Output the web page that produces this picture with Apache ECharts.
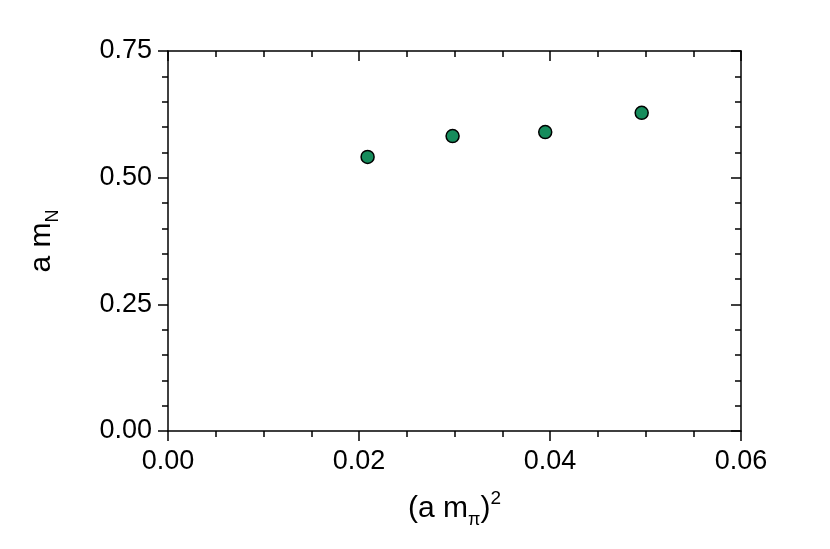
<!DOCTYPE html>
<html>
<head>
<meta charset="utf-8">
<script src="https://cdn.jsdelivr.net/npm/echarts@6/dist/echarts.min.js"></script>
<style>
html, body { margin: 0; padding: 0; background: #fff; }
#chart { width: 830px; height: 549px; }
</style>
</head>
<body>
<div id="chart"></div>
<script>
// (a m_pi)^2 vs a m_N
var mpiSq = [0.0209, 0.0298, 0.0395, 0.0496];
var mN = [0.541, 0.582, 0.590, 0.628];
var xTicks = [0, 0.02, 0.04, 0.06];
var yTicks = [0, 0.25, 0.5, 0.75];

var points = mpiSq.map(function (x, i) { return [x, mN[i]]; });
var font = 'Liberation Sans, Arial, sans-serif';

var chart = echarts.init(document.getElementById('chart'));

function axisBase(inside) {
    return {
        axisLine: { show: true, onZero: false, lineStyle: { color: '#000', width: 1.5 } },
        axisTick: { show: true, inside: inside, length: 10, lineStyle: { color: '#000', width: 1.5 } },
        minorTick: { show: true, length: 6, lineStyle: { color: '#000', width: 1.5 } },
        splitLine: { show: false }
    };
}

var xBottom = Object.assign(axisBase(false), {
    type: 'value', position: 'bottom',
    min: xTicks[0], max: xTicks[xTicks.length - 1], interval: 0.02,
    minorTick: { show: true, splitNumber: 4, length: 6, lineStyle: { color: '#000', width: 1.5 } },
    axisLabel: { color: '#000', fontSize: 27, fontFamily: font, margin: 17,
        formatter: function (v) { return v.toFixed(2); } },
    name: '{t|(a m}{sub|π}{t|)}{sup|2}',
    nameLocation: 'middle', nameGap: 58,
    nameTextStyle: {
        rich: {
            t: { fontSize: 30, fontFamily: font, color: '#000', lineHeight: 40 },
            sub: { fontSize: 18, fontFamily: font, color: '#000', lineHeight: 14, verticalAlign: 'bottom' },
            sup: { fontSize: 19, fontFamily: font, color: '#000', lineHeight: 18, verticalAlign: 'top' }
        }
    }
});
var xTop = Object.assign(axisBase(true), {
    type: 'value', position: 'top',
    min: xTicks[0], max: xTicks[xTicks.length - 1], interval: 0.02,
    minorTick: { show: true, splitNumber: 4, length: 6, lineStyle: { color: '#000', width: 1.5 } },
    axisLabel: { show: false }
});

var yLeft = Object.assign(axisBase(false), {
    type: 'value', position: 'left',
    min: yTicks[0], max: yTicks[yTicks.length - 1], interval: 0.25,
    minorTick: { show: true, splitNumber: 5, length: 6, lineStyle: { color: '#000', width: 1.5 } },
    axisLabel: { color: '#000', fontSize: 27, fontFamily: font, margin: 16,
        formatter: function (v) { return v.toFixed(2); } },
    name: '{t|a m}{sub|N}',
    nameLocation: 'middle', nameGap: 106, nameRotate: 90,
    nameTextStyle: {
        rich: {
            t: { fontSize: 30, fontFamily: font, color: '#000', lineHeight: 40 },
            sub: { fontSize: 18, fontFamily: font, color: '#000', lineHeight: 12, verticalAlign: 'bottom' }
        }
    }
});
var yRight = Object.assign(axisBase(true), {
    type: 'value', position: 'right',
    min: yTicks[0], max: yTicks[yTicks.length - 1], interval: 0.25,
    minorTick: { show: true, splitNumber: 5, length: 6, lineStyle: { color: '#000', width: 1.5 } },
    axisLabel: { show: false }
});

chart.setOption({
    animation: false,
    backgroundColor: '#fff',
    grid: { left: 168, right: 89, top: 51, bottom: 118 },
    xAxis: [xBottom, xTop],
    yAxis: [yLeft, yRight],
    series: [{
        type: 'scatter',
        data: points,
        symbol: 'circle',
        symbolSize: 13,
        itemStyle: { color: '#168c5c', borderColor: '#000', borderWidth: 1.5, opacity: 1 }
    }]
});
</script>
</body>
</html>
